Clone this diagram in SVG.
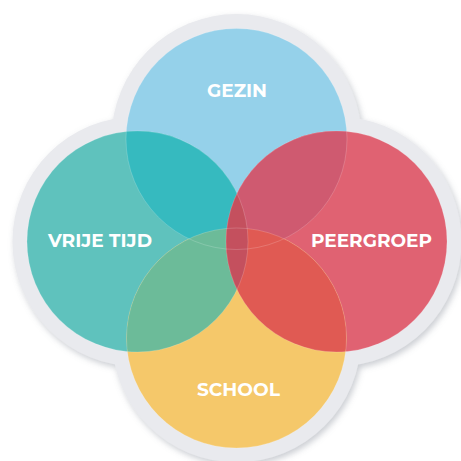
<svg xmlns="http://www.w3.org/2000/svg" width="461" height="461" viewBox="0 0 461 461">
  <defs>
    <filter id="sh" x="-10%" y="-10%" width="120%" height="120%">
      <feDropShadow dx="2" dy="3" stdDeviation="3" flood-color="#8a8f9c" flood-opacity="0.45"/>
    </filter>
    <clipPath id="cT"><circle cx="236.5" cy="139" r="110.5"/></clipPath>
    <clipPath id="cL"><circle cx="137.5" cy="241.5" r="110.5"/></clipPath>
    <clipPath id="cR"><circle cx="336.5" cy="241.5" r="110.5"/></clipPath>
    <clipPath id="cB"><circle cx="236.5" cy="338" r="110"/></clipPath>
  </defs>
  <style>
    .lbl { font-family: "Montserrat", "Open Sans", "Liberation Sans", sans-serif; font-weight: 700; font-size: 17.5px; fill: #ffffff; text-anchor: middle; }
    .edge { fill: none; stroke: #ffffff; stroke-opacity: 0.25; stroke-width: 0.7; }
  </style>
  <rect width="461" height="461" fill="#ffffff"/>
  <g id="backdrop" filter="url(#sh)" fill="#e9eaee">
    <circle cx="236.5" cy="139" r="125"/>
    <circle cx="137.5" cy="241.5" r="125"/>
    <circle cx="336.5" cy="241.5" r="125"/>
    <circle cx="236.5" cy="338" r="124.5"/>
  </g>
  <g id="gezin">
    <circle cx="236.5" cy="139" r="110.5" fill="#95d1ea"/>
  </g>
  <g id="vrije-tijd">
    <circle cx="137.5" cy="241.5" r="110.5" fill="#5fc2bd"/>
  </g>
  <g id="peergroep">
    <circle cx="336.5" cy="241.5" r="110.5" fill="#e06272"/>
  </g>
  <g id="school">
    <circle cx="236.5" cy="338" r="110" fill="#f5c86a"/>
  </g>
  <g id="overlaps">
    <g clip-path="url(#cT)"><circle cx="137.5" cy="241.5" r="110.5" fill="#36babf"/></g>
    <g clip-path="url(#cT)"><circle cx="336.5" cy="241.5" r="110.5" fill="#cf5a70"/></g>
    <g clip-path="url(#cB)"><circle cx="137.5" cy="241.5" r="110.5" fill="#6cbb99"/></g>
    <g clip-path="url(#cB)"><circle cx="336.5" cy="241.5" r="110.5" fill="#e05a53"/></g>
    <g clip-path="url(#cL)"><circle cx="336.5" cy="241.5" r="110.5" fill="#c4505e"/></g>
  </g>
  <g id="edges">
    <circle class="edge" cx="236.5" cy="139" r="110.5"/>
    <circle class="edge" cx="137.5" cy="241.5" r="110.5"/>
    <circle class="edge" cx="336.5" cy="241.5" r="110.5"/>
    <circle class="edge" cx="236.5" cy="338" r="110"/>
  </g>
  <g id="labels">
    <text class="lbl" x="237" y="97" textLength="60" lengthAdjust="spacingAndGlyphs">GEZIN</text>
    <text class="lbl" x="100" y="247" textLength="104" lengthAdjust="spacingAndGlyphs">VRIJE TIJD</text>
    <text class="lbl" x="371.5" y="247" textLength="121" lengthAdjust="spacingAndGlyphs">PEERGROEP</text>
    <text class="lbl" x="238.5" y="396" textLength="83" lengthAdjust="spacingAndGlyphs">SCHOOL</text>
  </g>
</svg>
